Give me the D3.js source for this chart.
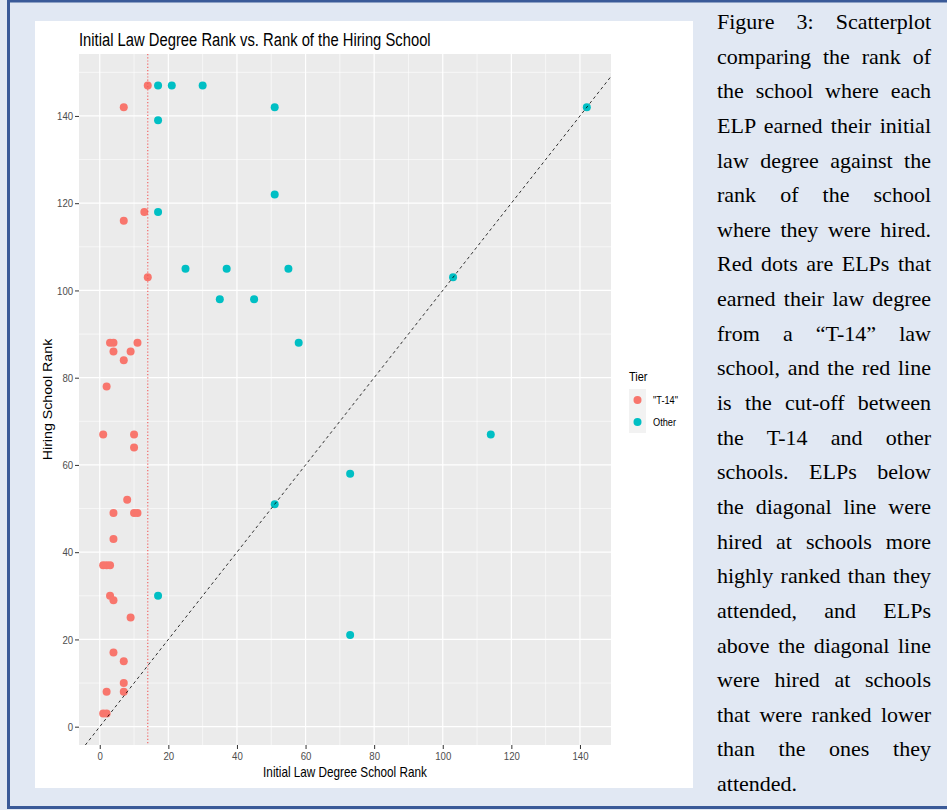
<!DOCTYPE html>
<html>
<head>
<meta charset="UTF-8">
<title>Initial Law Degree Rank vs. Rank of the Hiring School</title>
<script src="https://cdnjs.cloudflare.com/ajax/libs/d3/7.8.5/d3.min.js"></script>
<style>
body { margin: 0; background: #e1e8f3; }
svg { display: block; font-family: "Liberation Sans", Arial, sans-serif; }
.axis text { fill: #4d4d4d; font-size: 11.5px; }
.axis line { stroke: #333333; }
.axis path { display: none; }
.caption { font-family: "Liberation Serif", "Times New Roman", serif; font-size: 22px; fill: #000; }
</style>
</head>
<body>
<script>
// T-14 schools: initial law degree rank (x) and hiring school rank (y)
var t14X = [14, 7, 13, 7, 14, 3, 4, 4, 9, 7, 11, 2, 1, 10, 10, 8, 4, 10, 11, 4, 1, 2, 3, 3, 4, 9, 4, 7, 7, 7, 2, 1, 2];
var t14Y = [147, 142, 118, 116, 103, 88, 88, 86, 86, 84, 88, 78, 67, 67, 64, 52, 49, 49, 49, 43, 37, 37, 37, 30, 29, 25, 17, 15, 10, 8, 8, 3, 3];

// other schools
var otherX = [17, 21, 30, 17, 17, 51, 51, 25, 37, 55, 35, 45, 58, 73, 114, 51, 73, 142, 103, 17];
var otherY = [147, 147, 147, 139, 118, 142, 122, 105, 105, 105, 98, 98, 88, 58, 67, 51, 21, 142, 103, 30];

var tiers = ["\"T-14\"", "Other"];
var tierColors = ["#F8766D", "#00BFC4"];
var cutoff = 14;
var xTicks = [0, 20, 40, 60, 80, 100, 120, 140];
var yTicks = [0, 20, 40, 60, 80, 100, 120, 140];

var captionLines = [
  "Figure 3: Scatterplot",
  "comparing the rank of",
  "the school where each",
  "ELP earned their initial",
  "law degree against the",
  "rank of the school",
  "where they were hired.",
  "Red dots are ELPs that",
  "earned their law degree",
  "from a \u201cT-14\u201d law",
  "school, and the red line",
  "is the cut-off between",
  "the T-14 and other",
  "schools. ELPs below",
  "the diagonal line were",
  "hired at schools more",
  "highly ranked than they",
  "attended, and ELPs",
  "above the diagonal line",
  "were hired at schools",
  "that were ranked lower",
  "than the ones they",
  "attended."
];

var W = 947, H = 810;
var sx = 0.84; // chart text looks horizontally squeezed
var svg = d3.select("body").append("svg").attr("width", W).attr("height", H);

// page frame
svg.append("rect").attr("x", 0).attr("y", 0).attr("width", W).attr("height", H).attr("fill", "#e1e8f3");
svg.append("rect").attr("x", 8.5).attr("y", 1).attr("width", W + 10).attr("height", 806.5)
  .attr("fill", "none").attr("stroke", "#3a5a98").attr("stroke-width", 3);

// white chart area
svg.append("rect").attr("x", 35).attr("y", 21).attr("width", 658).attr("height", 767).attr("fill", "#ffffff");

var points = [];
t14X.forEach(function(d, i) { points.push({x: d, y: t14Y[i], tier: 0}); });
otherX.forEach(function(d, i) { points.push({x: d, y: otherY[i], tier: 1}); });

function expand(ext) {
  var pad = (ext[1] - ext[0]) * 0.05;
  return [ext[0] - pad, ext[1] + pad];
}

var panel = {left: 79, right: 611, top: 54, bottom: 745};

var x = d3.scaleLinear()
  .domain(expand(d3.extent(points, function(d) { return d.x; })))
  .range([panel.left, panel.right]);
var y = d3.scaleLinear()
  .domain(expand(d3.extent(points, function(d) { return d.y; })))
  .range([panel.bottom, panel.top]);

var g = svg.append("g");

g.append("rect")
  .attr("x", panel.left).attr("y", panel.top)
  .attr("width", panel.right - panel.left).attr("height", panel.bottom - panel.top)
  .attr("fill", "#ebebeb");

// grid lines
var xMinor = d3.range(-10, 160, 20).filter(function(v) { return v > x.domain()[0] && v < x.domain()[1]; });
var yMinor = d3.range(-10, 160, 20).filter(function(v) { return v > y.domain()[0] && v < y.domain()[1]; });

g.selectAll(".xminor").data(xMinor).enter().append("line")
  .attr("x1", function(d) { return x(d); }).attr("x2", function(d) { return x(d); })
  .attr("y1", panel.top).attr("y2", panel.bottom)
  .attr("stroke", "#fff").attr("stroke-width", 0.6);
g.selectAll(".yminor").data(yMinor).enter().append("line")
  .attr("y1", function(d) { return y(d); }).attr("y2", function(d) { return y(d); })
  .attr("x1", panel.left).attr("x2", panel.right)
  .attr("stroke", "#fff").attr("stroke-width", 0.6);
g.selectAll(".xmajor").data(xTicks).enter().append("line")
  .attr("x1", function(d) { return x(d); }).attr("x2", function(d) { return x(d); })
  .attr("y1", panel.top).attr("y2", panel.bottom)
  .attr("stroke", "#fff").attr("stroke-width", 1.2);
g.selectAll(".ymajor").data(yTicks).enter().append("line")
  .attr("y1", function(d) { return y(d); }).attr("y2", function(d) { return y(d); })
  .attr("x1", panel.left).attr("x2", panel.right)
  .attr("stroke", "#fff").attr("stroke-width", 1.2);

// points
g.selectAll(".pt").data(points).enter().append("circle")
  .attr("cx", function(d) { return x(d.x); })
  .attr("cy", function(d) { return y(d.y); })
  .attr("r", 4)
  .attr("fill", function(d) { return tierColors[d.tier]; });

// cut-off line and diagonal
g.append("line")
  .attr("x1", x(cutoff)).attr("x2", x(cutoff))
  .attr("y1", panel.top).attr("y2", panel.bottom)
  .attr("stroke", "#f25c5c").attr("stroke-width", 1.1).attr("stroke-dasharray", "1.2,2");

var dLo = Math.max(x.domain()[0], y.domain()[0]);
var dHi = Math.min(x.domain()[1], y.domain()[1]);
g.append("line")
  .attr("x1", x(dLo)).attr("y1", y(dLo))
  .attr("x2", x(dHi)).attr("y2", y(dHi))
  .attr("stroke", "#000").attr("stroke-width", 0.8).attr("stroke-dasharray", "3,3");

// axes
svg.append("g").attr("class", "axis")
  .attr("transform", "translate(0," + panel.bottom + ")")
  .call(d3.axisBottom(x).tickValues(xTicks).tickSize(4).tickPadding(3))
  .selectAll("text").attr("transform", "scale(" + sx + ",1)");
svg.append("g").attr("class", "axis")
  .attr("transform", "translate(" + panel.left + ",0)")
  .call(d3.axisLeft(y).tickValues(yTicks).tickSize(4).tickPadding(3))
  .selectAll("text").attr("transform", "scale(" + sx + ",1)");

// squeezed horizontal text helper
function hText(px, py, size, anchor, str) {
  return svg.append("text")
    .attr("transform", "translate(" + px + "," + py + ") scale(" + sx + ",1)")
    .attr("text-anchor", anchor).attr("font-size", size).attr("fill", "#000")
    .text(str);
}

hText(panel.left, 46, 17.6, "start", "Initial Law Degree Rank vs. Rank of the Hiring School");
hText((panel.left + panel.right) / 2, 777, 14, "middle", "Initial Law Degree School Rank");
svg.append("text")
  .attr("transform", "translate(52," + ((panel.top + panel.bottom) / 2) + ") rotate(-90) scale(1," + sx + ")")
  .attr("text-anchor", "middle").attr("font-size", 14.2).attr("fill", "#000")
  .text("Hiring School Rank");

// legend
var leg = svg.append("g").attr("transform", "translate(629,370)");
leg.append("text").attr("transform", "translate(0,11) scale(" + sx + ",1)")
  .attr("font-size", 13).attr("fill", "#000").text("Tier");
leg.append("rect").attr("x", 0).attr("y", 19).attr("width", 17).attr("height", 44).attr("fill", "#f2f2f2");
tiers.forEach(function(t, i) {
  leg.append("circle").attr("cx", 8.5).attr("cy", 30 + i * 22).attr("r", 4).attr("fill", tierColors[i]);
  leg.append("text").attr("transform", "translate(24," + (34 + i * 22) + ") scale(" + sx + ",1)")
    .attr("font-size", 11).attr("fill", "#000").text(t);
});

// caption, justified by widening the word gaps
var capWidth = 214;
var cap = svg.append("g");
captionLines.forEach(function(line, i) {
  var t = cap.append("text").attr("class", "caption")
    .attr("x", 717).attr("y", 29 + i * 34.64)
    .text(line);
  if (i < captionLines.length - 1) {
    var gaps = line.split(" ").length - 1;
    var natural = t.node().getComputedTextLength();
    if (gaps > 0) t.attr("word-spacing", (capWidth - natural) / gaps);
  }
});
</script>
</body>
</html>
